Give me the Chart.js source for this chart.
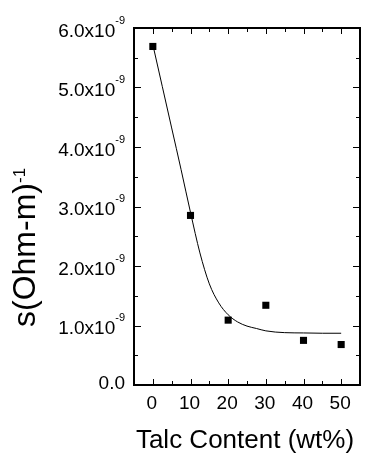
<!DOCTYPE html>
<html>
<head>
<meta charset="utf-8">
<script src="https://cdn.jsdelivr.net/npm/chart.js@4"></script>
<style>
  html, body { margin: 0; padding: 0; background: #fff; }
  #wrap { width: 378px; height: 461px; }
</style>
</head>
<body>
<div id="wrap"><canvas id="chart" width="378" height="461"></canvas></div>
<script>
// measured points (talc wt%, conductivity in 1e-9 units)
const talc = [0, 10, 20, 30, 40, 50];
const sigma = [5.69, 2.85, 1.09, 1.34, 0.75, 0.68];

// fitted curve
const fitX = [0, 2.5, 5, 7.5, 10, 12.5, 15, 17.5, 20, 22.5, 25, 27.5, 30, 35, 40, 45, 50];
const fitY = [5.72, 5.02, 4.32, 3.62, 2.9, 2.22, 1.7, 1.38, 1.18, 1.06, 0.99, 0.95, 0.91, 0.88, 0.875, 0.87, 0.87];

// axis ticks
const xTicks = [0, 10, 20, 30, 40, 50];
const xTickLabels = ['0', '10', '20', '30', '40', '50'];
const xMinor = [5, 15, 25, 35, 45];
const yTicks = [0, 1, 2, 3, 4, 5, 6];
const yTickLabels = ['0.0', '1.0x10', '2.0x10', '3.0x10', '4.0x10', '5.0x10', '6.0x10'];
const yTickExp = ['', '-9', '-9', '-9', '-9', '-9', '-9'];
const yMinor = [0.5, 1.5, 2.5, 3.5, 4.5, 5.5];

const FONT = '"Liberation Sans", Arial, sans-serif';

// frame, inward ticks on all four sides, labels and titles
const framePlugin = {
    id: 'frame',
    afterDraw(chart) {
        const ctx = chart.ctx;
        const a = chart.chartArea;
        const xs = chart.scales.x;
        const ys = chart.scales.y;
        ctx.save();
        ctx.strokeStyle = '#000';
        ctx.fillStyle = '#000';

        // ticks
        ctx.lineWidth = 1;
        ctx.beginPath();
        const xt = (v, len) => {
            const px = Math.round(xs.getPixelForValue(v)) + 0.5;
            ctx.moveTo(px, a.bottom); ctx.lineTo(px, a.bottom - len);
            ctx.moveTo(px, a.top); ctx.lineTo(px, a.top + len);
        };
        const yt = (v, len) => {
            const py = Math.round(ys.getPixelForValue(v)) + 0.5;
            ctx.moveTo(a.left, py); ctx.lineTo(a.left + len, py);
            ctx.moveTo(a.right, py); ctx.lineTo(a.right - len, py);
        };
        xTicks.forEach(v => xt(v, 6));
        xMinor.forEach(v => xt(v, 4));
        yTicks.forEach(v => yt(v, 7));
        yMinor.forEach(v => yt(v, 4));
        ctx.stroke();

        // box
        ctx.lineWidth = 2;
        ctx.strokeRect(a.left, a.top, a.right - a.left, a.bottom - a.top);

        // x tick labels
        ctx.font = '19px ' + FONT;
        ctx.textAlign = 'center';
        ctx.textBaseline = 'alphabetic';
        xTicks.forEach((v, i) => {
            ctx.fillText(xTickLabels[i], xs.getPixelForValue(v) - 1, a.bottom + 23.5);
        });

        // y tick labels with superscript exponent
        const rightEdge = 125;
        yTicks.forEach((v, i) => {
            const py = ys.getPixelForValue(v);
            const exp = yTickExp[i];
            ctx.textAlign = 'left';
            if (exp) {
                ctx.font = '11px ' + FONT;
                const ew = ctx.measureText(exp).width;
                ctx.fillText(exp, rightEdge - ew, py + 8.6 - 13);
                ctx.font = '19px ' + FONT;
                const mw = ctx.measureText(yTickLabels[i]).width;
                ctx.fillText(yTickLabels[i], rightEdge - ew - mw, py + 8.6);
            } else {
                ctx.font = '19px ' + FONT;
                const mw = ctx.measureText(yTickLabels[i]).width;
                ctx.fillText(yTickLabels[i], rightEdge - mw, py + 3.6);
            }
        });

        // x title
        ctx.font = '26px ' + FONT;
        ctx.textAlign = 'center';
        ctx.fillText('Talc Content (wt%)', 245, 448);

        // y title, rotated
        ctx.translate(35, 327);
        ctx.rotate(-Math.PI / 2);
        ctx.textAlign = 'left';
        ctx.font = '32px ' + FONT;
        const tw = ctx.measureText('s(Ohm-m)').width;
        ctx.fillText('s(Ohm-m)', 0, 0);
        ctx.font = '17px ' + FONT;
        ctx.fillText('-1', tw, -10);
        ctx.restore();
    }
};

const ctx = document.getElementById('chart').getContext('2d');
const chart = new Chart(ctx, {
    type: 'scatter',
    data: {
        datasets: [{
            label: 'data',
            data: talc.map((x, i) => ({ x: x, y: sigma[i] })),
            pointStyle: 'rect',
            pointRadius: 5,
            backgroundColor: '#000',
            borderColor: '#000',
            borderWidth: 0,
            showLine: false
        }, {
            label: 'fit',
            data: fitX.map((x, i) => ({ x: x, y: fitY[i] })),
            showLine: true,
            pointRadius: 0,
            borderColor: '#000',
            borderWidth: 1,
            cubicInterpolationMode: 'monotone',
            fill: false
        }]
    },
    options: {
        responsive: false,
        animation: false,
        layout: { padding: { left: 134, top: 28, right: 18, bottom: 76 } },
        scales: {
            x: { type: 'linear', min: -5, max: 55, display: false },
            y: { type: 'linear', min: 0, max: 6, display: false }
        },
        plugins: {
            legend: { display: false },
            tooltip: { enabled: false }
        }
    },
    plugins: [framePlugin]
});
</script>
</body>
</html>
